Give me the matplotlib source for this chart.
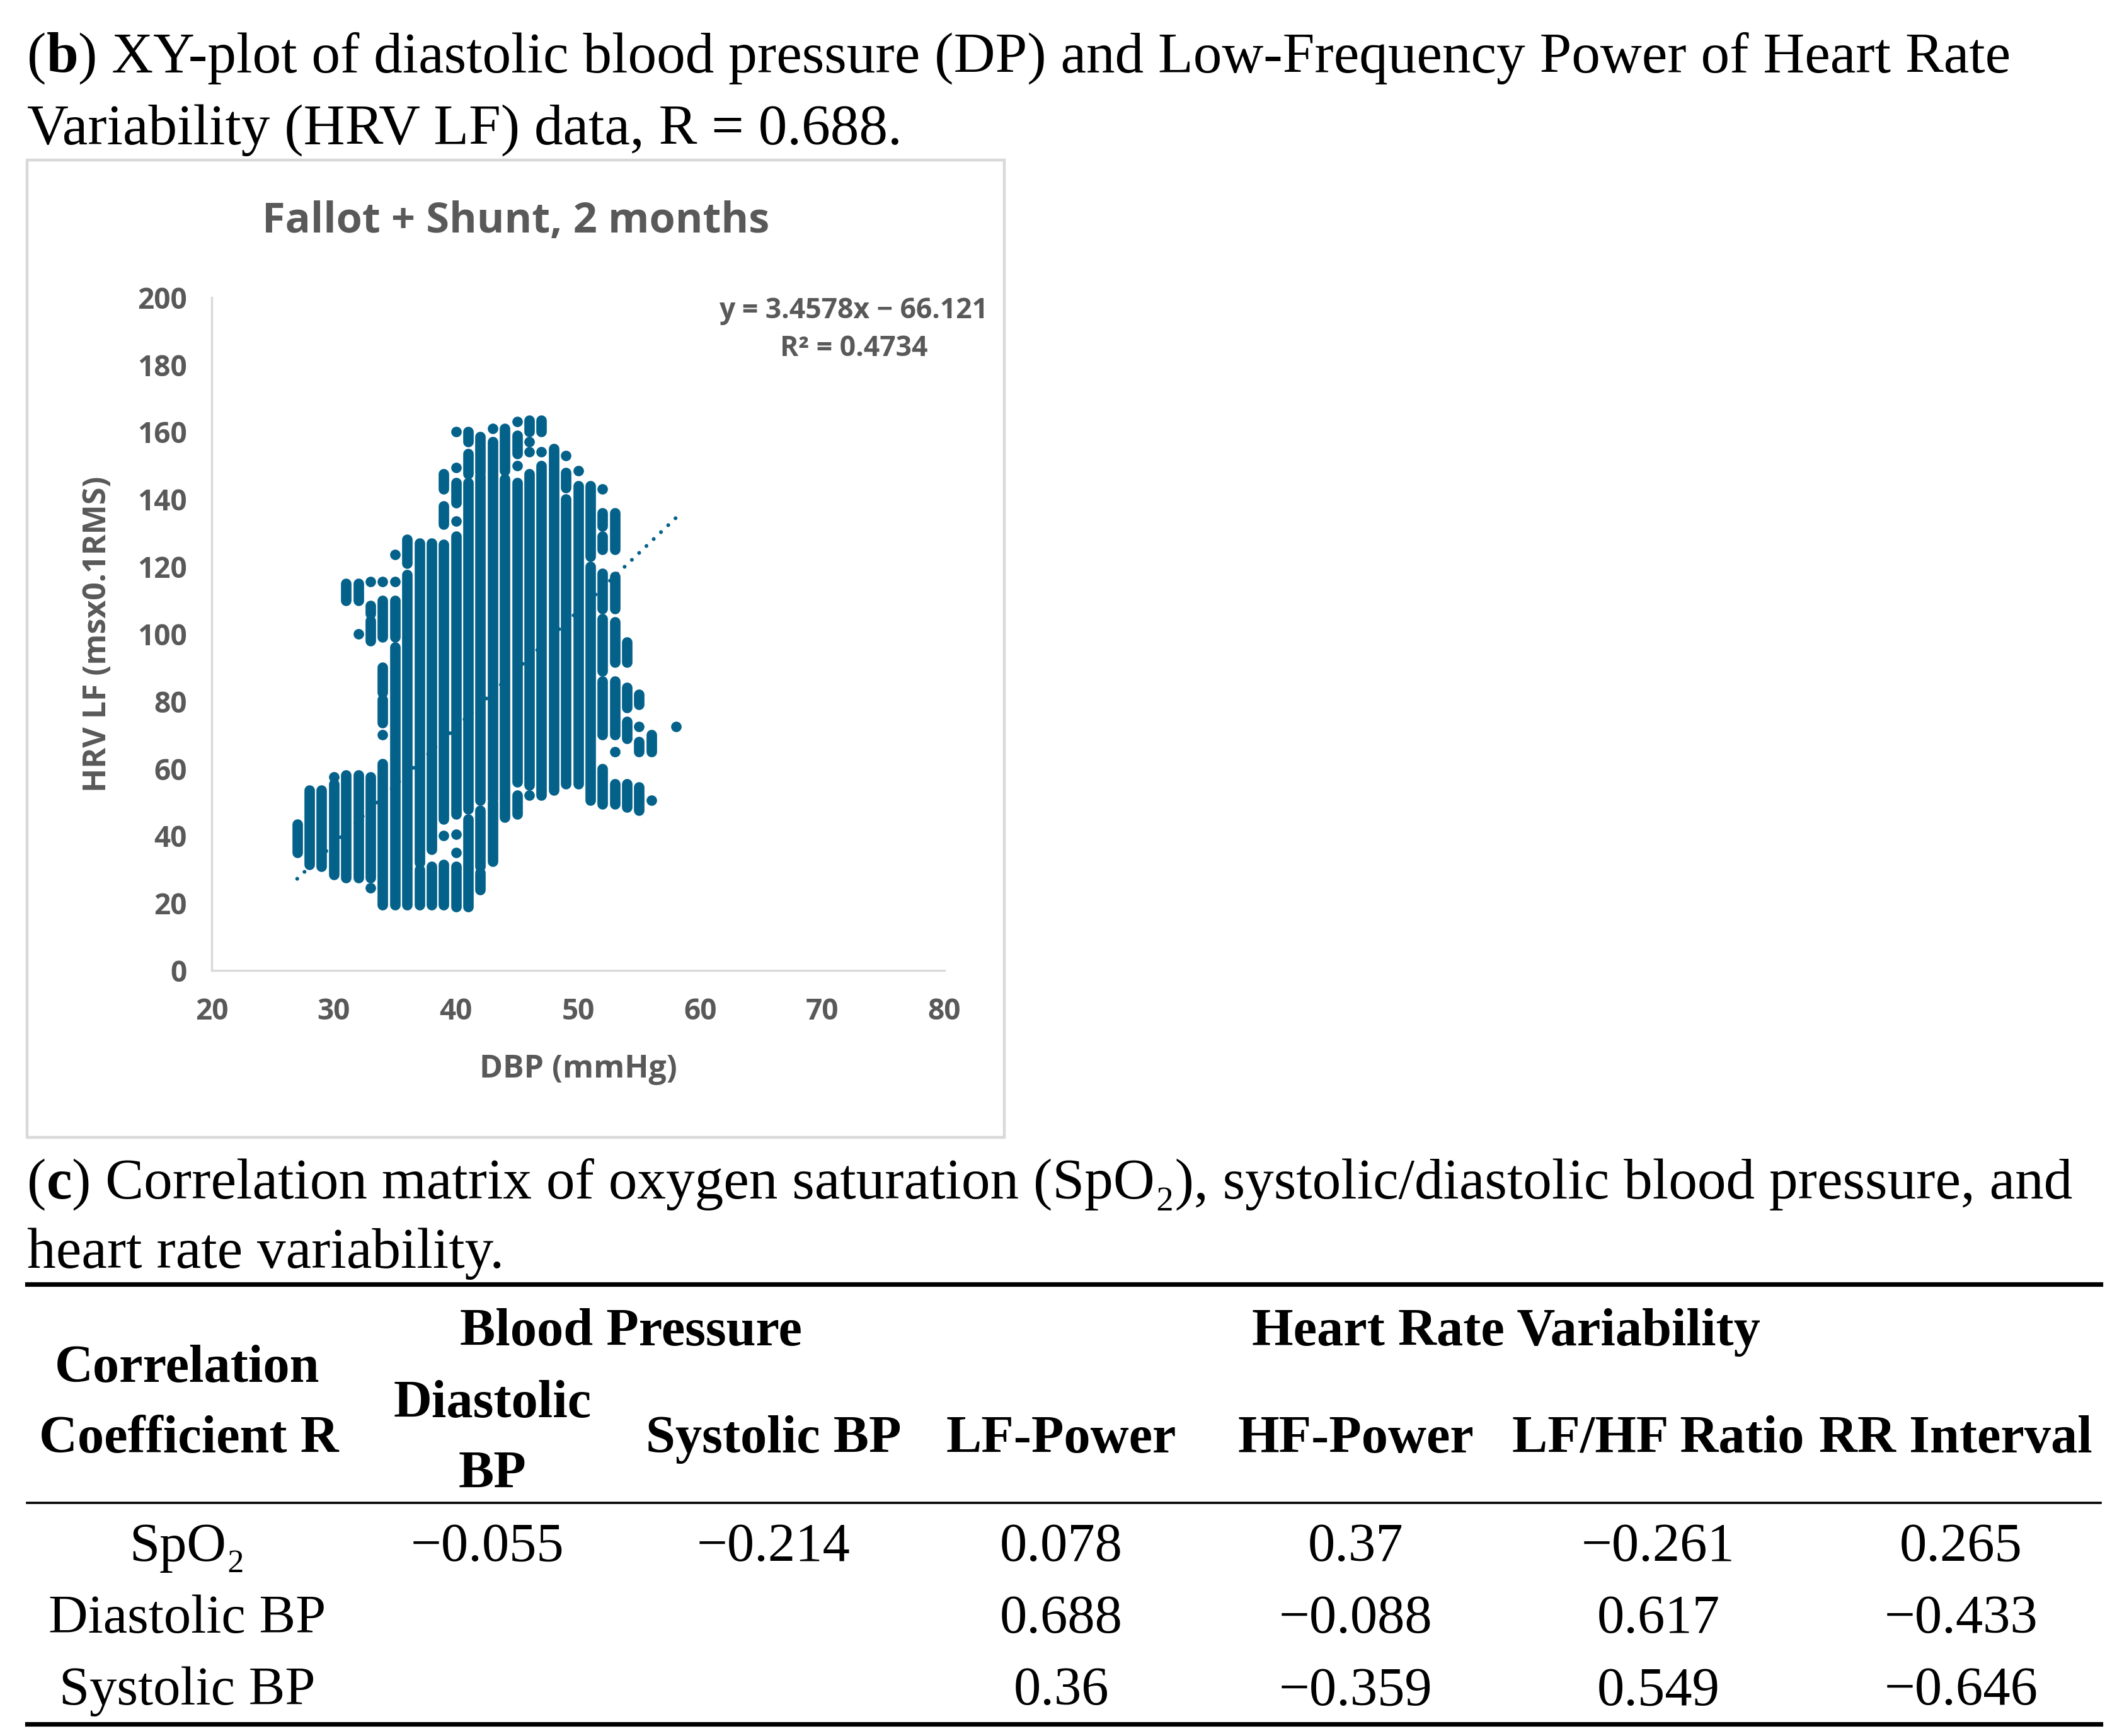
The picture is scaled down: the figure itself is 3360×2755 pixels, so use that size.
import matplotlib
matplotlib.use("Agg")
import matplotlib.pyplot as plt
from matplotlib.patches import Rectangle
from matplotlib.lines import Line2D

# ---- scatter data: vertical runs of overlapping points (x, low, high) ----
run_x = [27, 28, 29, 30, 31, 31, 32, 32, 33, 33, 33,
         34, 34, 34, 34, 35, 35, 36, 36, 37, 37, 38, 38,
         39, 39, 39, 39, 40, 40, 40, 41, 41, 41, 41,
         42, 42, 42, 42, 43, 43, 44, 44, 45, 45, 45,
         46, 46, 47, 47, 48, 49, 49, 50, 51, 51,
         52, 52, 52, 52, 52, 52, 53, 53, 53, 53, 53,
         54, 54, 54, 54, 55, 55, 55, 56]
run_lo = [35, 31.5, 31, 28.5, 27.5, 110, 27.5, 110, 27.5, 98, 106,
          19.5, 73.5, 82.5, 99, 19.5, 99, 19.5, 121, 19.5, 32, 19.5, 36,
          19.5, 45, 132.5, 143, 19, 46.5, 139, 19, 48, 147.5, 157,
          24, 31, 50.5, 148, 32.5, 51, 45.5, 148.5, 46.5, 56, 153.5,
          55, 160, 52, 160, 53.5, 55.5, 143.5, 55.5, 50.5, 123,
          49.5, 70, 89, 107.5, 125, 132, 49.5, 70, 91.5, 107.5, 125,
          48.5, 69, 78, 91.5, 47.5, 65, 79, 65]
run_hi = [43.5, 53.5, 53.5, 55.5, 58, 115, 58, 115, 57.5, 104, 108.5,
          61.5, 80.5, 90, 110, 96, 110, 117.5, 128, 30, 127, 31, 127,
          31.5, 126.5, 138, 147.5, 31, 129, 145, 45, 145, 153.5, 160,
          29, 47.5, 147, 158.5, 50, 157, 146, 161, 52, 145, 159,
          147.5, 163.5, 150, 163.5, 155, 140, 148, 144, 120, 144,
          60, 86, 104.5, 118, 129, 136, 55.5, 86, 103.5, 117, 136,
          55.5, 74, 84, 97.5, 54.5, 68, 82, 70]

# single points
pt_x = [30, 32, 33, 33, 34, 34, 35, 35, 39, 40, 40, 40, 40, 40,
        43, 45, 45, 46, 46, 46, 47, 49, 50, 52, 53, 55, 56, 58]
pt_y = [57.5, 100, 24.5, 115.5, 70, 115.5, 115.5, 123.5, 40, 35, 40.5, 133.5, 149.5, 160,
        161, 150, 163, 52, 154, 157, 154, 153, 148.5, 143, 65, 72.5, 50.5, 72.5]

# linear trendline shown in the chart
trend_slope = 3.4578
trend_icpt = -66.121
trend_r2 = 0.4734
trend_x = [27, 58]

x_ticks = [20, 30, 40, 50, 60, 70, 80]
y_ticks = [0, 20, 40, 60, 80, 100, 120, 140, 160, 180, 200]

# ---- correlation table ----
col_groups = ["Blood Pressure", "Heart Rate Variability"]
col_names = ["Diastolic\nBP", "Systolic BP", "LF-Power", "HF-Power", "LF/HF Ratio", "RR Interval"]
row_names = ["SpO\u2082", "Diastolic BP", "Systolic BP"]
cells = [
    ["\u22120.055", "\u22120.214", "0.078", "0.37", "\u22120.261", "0.265"],
    ["", "", "0.688", "\u22120.088", "0.617", "\u22120.433"],
    ["", "", "0.36", "\u22120.359", "0.549", "\u22120.646"],
]

DOT = "#03618a"
GREY = "#595959"
SERIF = ["Liberation Serif", "DejaVu Serif"]
SANS = ["Open Sans", "DejaVu Sans"]

W, H = 1560.0, 1279.0  # layout grid (reference coordinates)


def fx(v):
    return v / W


def fy(v):
    return 1 - v / H


fig = plt.figure(figsize=(16.8, 13.775), dpi=200)
renderer = fig.canvas.get_renderer()


def rich_line(x, y, pieces, size):
    x = fx(x)
    for txt, weight in pieces:
        t = fig.text(x, fy(y), txt, fontsize=size, fontweight=weight,
                     family=SERIF, va="baseline", ha="left")
        x += t.get_window_extent(renderer).width / fig.bbox.width


# serif size so that the first caption line spans the reference width
probe = fig.text(0, 0, "(b) XY-plot of diastolic blood pressure (DP) and Low-Frequency Power of Heart Rate",
                 fontsize=30, family=SERIF)
wfrac = probe.get_window_extent(renderer).width / fig.bbox.width
probe.remove()
fs = 30 * (1460 / W) / wfrac
fs_head = fs * 0.925
fs_cell = fs * 0.95

rich_line(20, 53, [("(", "normal"), ("b", "bold"),
                   (") XY-plot of diastolic blood pressure (DP) and Low-Frequency Power of Heart Rate", "normal")], fs)
rich_line(20, 106, [("Variability (HRV LF) data, R = 0.688.", "normal")], fs)

# ---- chart box ----
fig.patches.append(Rectangle((fx(20), fy(838)), fx(720), 720 / H, transform=fig.transFigure,
                             fill=False, edgecolor="#d9d9d9", linewidth=1.6))
fig.text(fx(380), fy(163), "Fallot + Shunt, 2 months", ha="center", va="center",
         fontsize=24, fontweight="bold", color=GREY, family=SANS)

ax = fig.add_axes([fx(156), fy(715), 540 / W, 496 / H])
ax.vlines(run_x, run_lo, run_hi, colors=DOT, linewidth=6.0, capstyle="round", zorder=2)
ax.scatter(pt_x, pt_y, s=36, color=DOT, linewidths=0, zorder=2)
ty = [trend_slope * v + trend_icpt for v in trend_x]
ax.plot(trend_x, ty, color=DOT, linewidth=2.2, linestyle=(0, (0.01, 2.6)),
        dash_capstyle="round", zorder=3)

ax.set_xlim(20, 80)
ax.set_ylim(0, 200)
ax.set_xticks(x_ticks)
ax.set_yticks(y_ticks)
for s in ["top", "right"]:
    ax.spines[s].set_visible(False)
for s in ["left", "bottom"]:
    ax.spines[s].set_color("#d9d9d9")
    ax.spines[s].set_linewidth(1.2)
ax.tick_params(length=0, labelsize=16.5, labelcolor=GREY)
ax.tick_params(axis="y", pad=14)
ax.tick_params(axis="x", pad=15)
for lab in ax.get_xticklabels() + ax.get_yticklabels():
    lab.set_fontweight("bold")
    lab.set_family(SANS)
ax.set_xlabel("DBP (mmHg)", fontsize=18, fontweight="bold", color=GREY, family=SANS, va="center")
ax.set_ylabel("HRV LF (msx0.1RMS)", fontsize=18, fontweight="bold", color=GREY, family=SANS, va="center")
ax.xaxis.set_label_coords(0.5, (715 - 788) / 496)
ax.yaxis.set_label_coords((72 - 156) / 540, 0.5)

fig.text(fx(629), fy(229), "y = %.4fx \u2212 %.3f" % (trend_slope, -trend_icpt), ha="center", va="center",
         fontsize=16, fontweight="bold", color=GREY, family=SANS)
fig.text(fx(629), fy(257), "R\u00b2 = %.4f" % trend_r2, ha="center", va="center",
         fontsize=16, fontweight="bold", color=GREY, family=SANS)

# ---- (c) caption and table ----
rich_line(20, 883, [("(", "normal"), ("c", "bold"),
                    (") Correlation matrix of oxygen saturation (SpO\u2082), systolic/diastolic blood pressure, and",
                     "normal")], fs)
rich_line(20, 934, [("heart rate variability.", "normal")], fs)

for yy, lw in [(946, 2.6), (1107, 1.3), (1270, 2.6)]:
    fig.add_artist(Line2D([fx(20), fx(1548)], [fy(yy), fy(yy)], color="black", linewidth=lw))

head_cx = [363, 570, 782, 999, 1222, 1441]
col_cx = [359, 570, 782, 999, 1222, 1445]
group_cx = [465, 1110]
for name, cx in zip(col_groups, group_cx):
    fig.text(fx(cx), fy(991), name, ha="center", va="baseline", fontsize=fs_head,
             fontweight="bold", family=SERIF)
fig.text(fx(138), fy(1018), "Correlation", ha="center", va="baseline", fontsize=fs_head,
         fontweight="bold", family=SERIF)
fig.text(fx(139), fy(1070), "Coefficient R", ha="center", va="baseline", fontsize=fs_head,
         fontweight="bold", family=SERIF)
for name, cx in zip(col_names, head_cx):
    lines = name.split("\n")
    if len(lines) == 2:
        fig.text(fx(cx), fy(1044), lines[0], ha="center", va="baseline", fontsize=fs_head,
                 fontweight="bold", family=SERIF)
        fig.text(fx(cx), fy(1096), lines[1], ha="center", va="baseline", fontsize=fs_head,
                 fontweight="bold", family=SERIF)
    else:
        fig.text(fx(cx), fy(1070), name, ha="center", va="baseline", fontsize=fs_head,
                 fontweight="bold", family=SERIF)

row_base = [1150, 1203, 1256]
for rname, row, by in zip(row_names, cells, row_base):
    fig.text(fx(138), fy(by), rname, ha="center", va="baseline", fontsize=fs_cell, family=SERIF)
    for val, cx in zip(row, col_cx):
        if val:
            fig.text(fx(cx), fy(by), val, ha="center", va="baseline", fontsize=fs_cell, family=SERIF)

fig.savefig("out.png", dpi=200)
